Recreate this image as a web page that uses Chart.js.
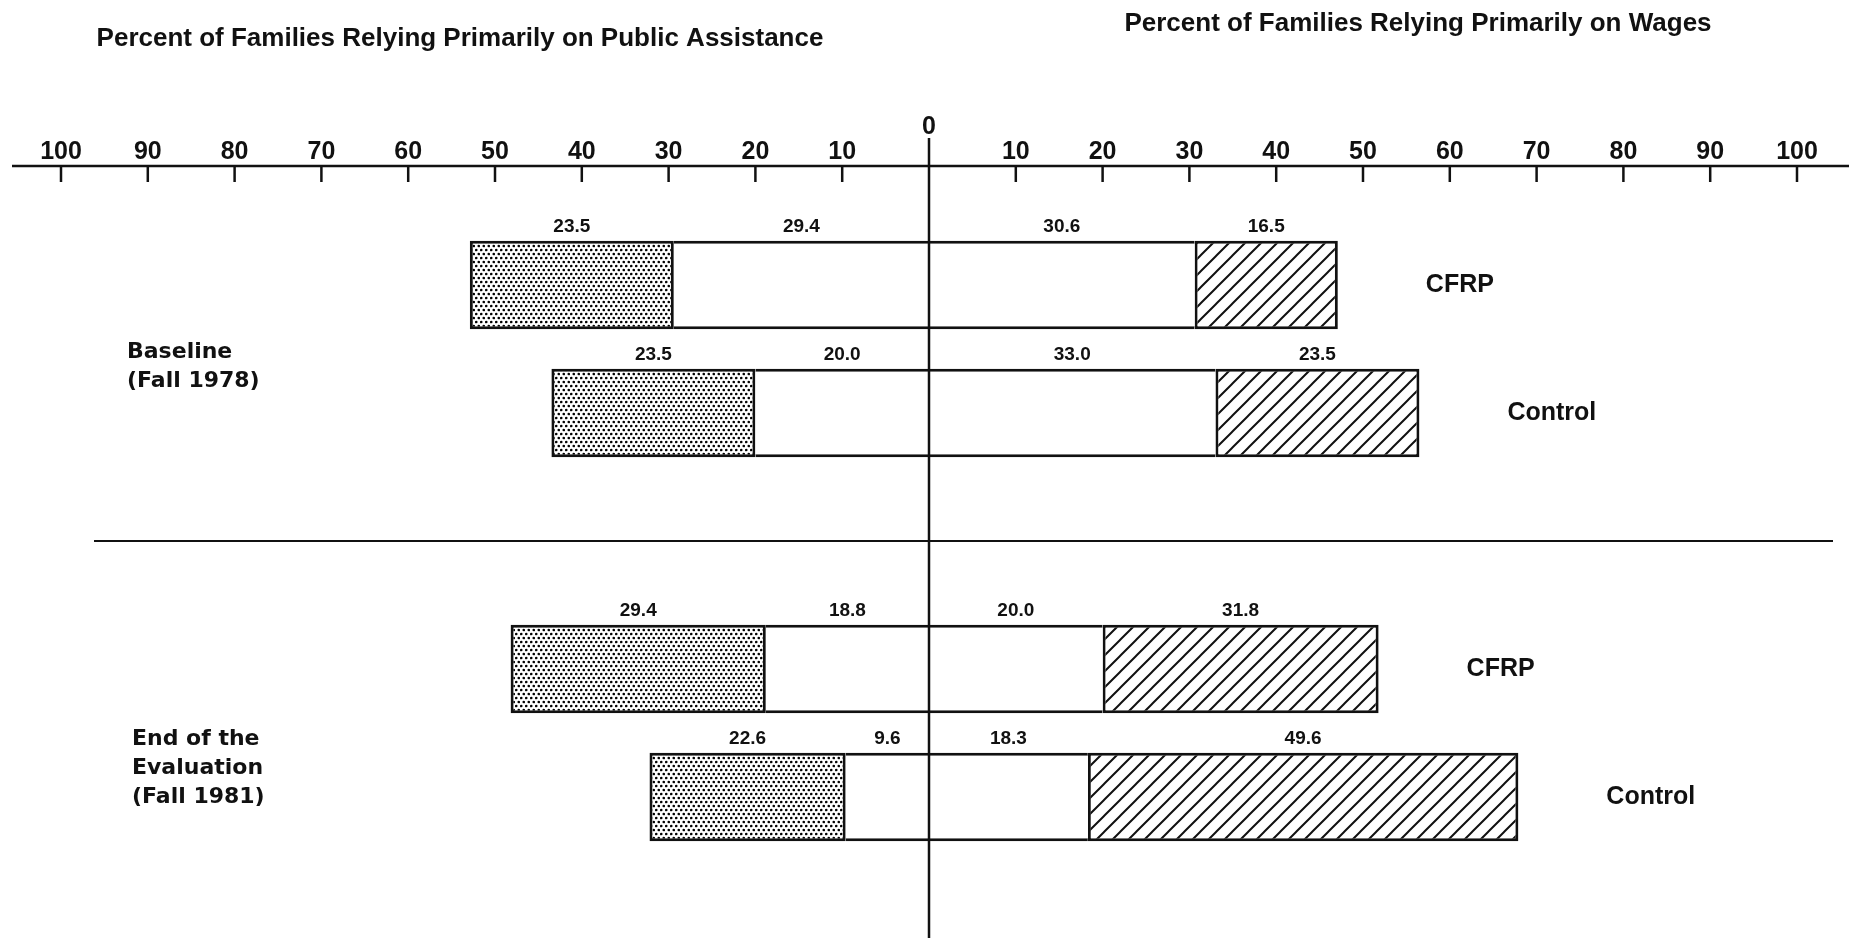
<!DOCTYPE html>
<html lang="en">
<head>
  <meta charset="UTF-8">
  <title>Families Relying on Public Assistance and Wages</title>
  <style>
    body { margin: 0; background: #fff; overflow: hidden; }
    #wrap { position: relative; width: 1849px; height: 938px; }
  </style>
  <script src="https://cdn.jsdelivr.net/npm/chart.js"></script>
</head>
<body>
  <div id="wrap"><canvas id="chart"></canvas></div>

  <script>
    // values (the empty row is the gap between the two periods)
    const rowLabels = ['CFRP', 'Control', '', 'CFRP', 'Control'];
    const groupLabels = [['Baseline', '(Fall 1978)'], ['End of the', 'Evaluation', '(Fall 1981)']];
    const groupRows = [[0, 1], [3, 4]];
    const assistanceOnly = [23.5, 23.5, null, 29.4, 22.6];   // dotted
    const assistanceMixed = [29.4, 20.0, null, 18.8, 9.6];   // white, left of 0
    const wagesMixed = [30.6, 33.0, null, 20.0, 18.3];       // white, right of 0
    const wagesOnly = [16.5, 23.5, null, 31.8, 49.6];        // hatched
    const tickValues = [-100, -90, -80, -70, -60, -50, -40, -30, -20, -10, 0, 10, 20, 30, 40, 50, 60, 70, 80, 90, 100];
    const leftTitle = 'Percent of Families Relying Primarily on Public Assistance';
    const rightTitle = 'Percent of Families Relying Primarily on Wages';

    const ink = '#111';

    // fill patterns
    function hatchPattern() {
      const s = 16;
      const c = document.createElement('canvas');
      c.width = s; c.height = s;
      const g = c.getContext('2d');
      g.fillStyle = '#fff';
      g.fillRect(0, 0, s, s);
      g.strokeStyle = ink;
      g.lineWidth = 2;
      g.beginPath();
      g.moveTo(0, s); g.lineTo(s, 0);
      g.moveTo(-2, 2); g.lineTo(2, -2);
      g.moveTo(s - 2, s + 2); g.lineTo(s + 2, s - 2);
      g.stroke();
      return g.createPattern(c, 'repeat');
    }

    function dotPattern() {
      const c = document.createElement('canvas');
      c.width = 5; c.height = 8;
      const g = c.getContext('2d');
      g.fillStyle = '#fff';
      g.fillRect(0, 0, 5, 8);
      g.fillStyle = '#000';
      [[1.25, 2], [3.75, 6]].forEach(p => {
        g.beginPath();
        g.arc(p[0], p[1], 1.3, 0, Math.PI * 2);
        g.fill();
      });
      return g.createPattern(c, 'repeat');
    }

    const neg = arr => arr.map(v => v === null ? null : -v);

    // axis, titles and labels drawn on top of the bars
    const figure = {
      id: 'figure',
      afterDatasetsDraw(chart) {
        const ctx = chart.ctx;
        const xs = chart.scales.x;
        const ys = chart.scales.y;
        const x0 = xs.getPixelForValue(0);
        const axisY = 166;

        ctx.save();
        ctx.strokeStyle = ink;
        ctx.fillStyle = ink;

        // top axis
        ctx.lineWidth = 2.5;
        ctx.beginPath();
        ctx.moveTo(12, axisY);
        ctx.lineTo(chart.width, axisY);
        ctx.stroke();

        // zero line
        ctx.lineWidth = 2.5;
        ctx.beginPath();
        ctx.moveTo(x0, 138);
        ctx.lineTo(x0, chart.height);
        ctx.stroke();

        // ticks and tick labels
        ctx.font = 'bold 25px "Liberation Sans", sans-serif';
        ctx.textAlign = 'center';
        ctx.textBaseline = 'alphabetic';
        tickValues.forEach(v => {
          const px = xs.getPixelForValue(v);
          if (v === 0) {
            ctx.fillText('0', px, 134);
            return;
          }
          ctx.lineWidth = 2.5;
          ctx.beginPath();
          ctx.moveTo(px, axisY);
          ctx.lineTo(px, axisY + 16);
          ctx.stroke();
          ctx.fillText(String(Math.abs(v)), px, axisY - 7);
        });

        // titles
        ctx.font = 'bold 26px "Liberation Sans", sans-serif';
        ctx.textBaseline = 'middle';
        ctx.fillText(leftTitle, 460, 39);
        ctx.fillText(rightTitle, 1418, 24);

        // separator between the two periods
        const sepY = ys.getPixelForTick(2);
        ctx.lineWidth = 2;
        ctx.beginPath();
        ctx.moveTo(94, sepY);
        ctx.lineTo(1833, sepY);
        ctx.stroke();

        // period labels
        ctx.font = 'bold 22px "DejaVu Sans", sans-serif';
        ctx.textAlign = 'left';
        groupLabels.forEach((lines, gi) => {
          const rows = groupRows[gi];
          const mid = (ys.getPixelForTick(rows[0]) + ys.getPixelForTick(rows[1])) / 2;
          const lh = 29;
          const startY = mid + (gi === 0 ? 18 : 35) - (lines.length - 1) * lh / 2;
          lines.forEach((t, li) => ctx.fillText(t, gi === 0 ? 127 : 132, startY + li * lh));
        });

        // segment values above each bar piece
        ctx.font = 'bold 19px "Liberation Sans", sans-serif';
        ctx.textAlign = 'center';
        ctx.textBaseline = 'alphabetic';
        chart.data.datasets.forEach((ds, di) => {
          const meta = chart.getDatasetMeta(di);
          meta.data.forEach((bar, i) => {
            const v = ds.data[i];
            if (v === null) return;
            const cx = (bar.x + bar.base) / 2;
            const top = bar.y - bar.height / 2;
            ctx.fillText(Math.abs(v).toFixed(1), cx, top - 9);
          });
        });

        // row labels to the right of each bar
        ctx.font = 'bold 25px "Liberation Sans", sans-serif';
        ctx.textAlign = 'left';
        ctx.textBaseline = 'middle';
        const endMeta = chart.getDatasetMeta(3);
        rowLabels.forEach((lab, i) => {
          if (!lab) return;
          const bar = endMeta.data[i];
          ctx.fillText(lab, bar.x + 88, bar.y);
        });

        ctx.restore();
      }
    };

    const common = {
      borderColor: ink,
      borderSkipped: false,
      barPercentage: 0.69,
      categoryPercentage: 1.0
    };
    const fullBorder = 3;
    const openBorder = { top: 3, bottom: 3, left: 0, right: 0 };

    new Chart(document.getElementById('chart'), {
      type: 'bar',
      data: {
        labels: rowLabels,
        datasets: [
          Object.assign({ label: 'Mixed (assistance side)', data: neg(assistanceMixed), backgroundColor: '#fff', borderWidth: openBorder }, common),
          Object.assign({ label: 'Public assistance', data: neg(assistanceOnly), backgroundColor: dotPattern(), borderWidth: fullBorder }, common),
          Object.assign({ label: 'Mixed (wages side)', data: wagesMixed, backgroundColor: '#fff', borderWidth: openBorder }, common),
          Object.assign({ label: 'Wages', data: wagesOnly, backgroundColor: hatchPattern(), borderWidth: fullBorder }, common)
        ]
      },
      options: {
        indexAxis: 'y',
        responsive: true,
        maintainAspectRatio: false,
        animation: false,
        layout: { padding: { left: 61, right: 52, top: 221, bottom: 77 } },
        plugins: {
          legend: { display: false },
          tooltip: { enabled: false }
        },
        scales: {
          x: { display: false, stacked: true, min: -100, max: 100 },
          y: { display: false, stacked: true }
        }
      },
      plugins: [figure]
    });
  </script>
</body>
</html>
